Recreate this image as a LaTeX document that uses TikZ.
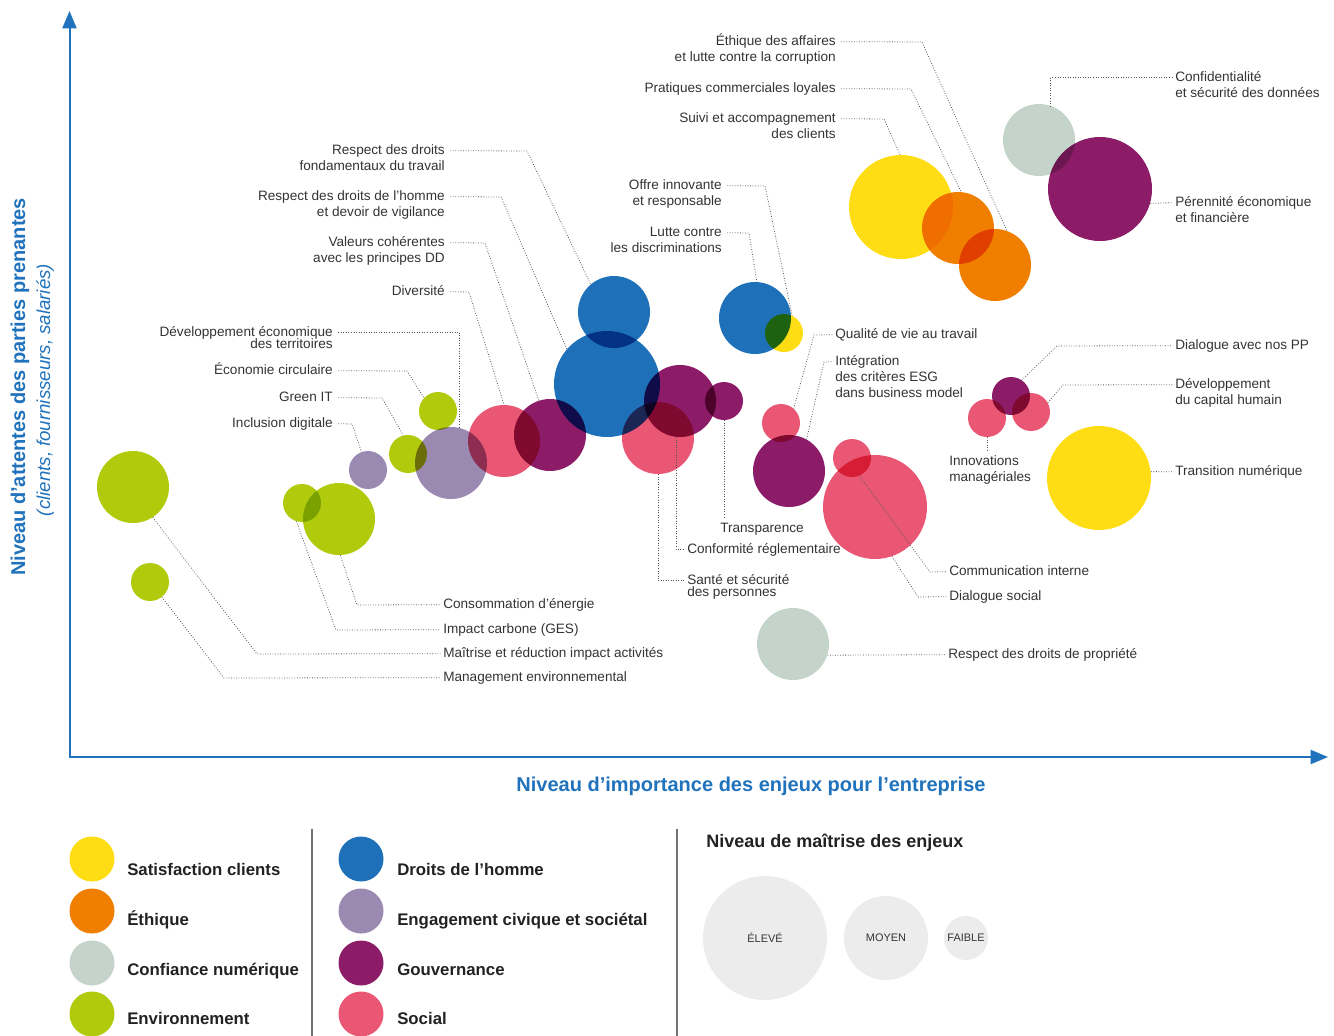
\documentclass[tikz,border=0pt]{standalone}
\usepackage{fontspec}
\setmainfont{Liberation Sans}
\usepackage{xcolor}
\usepackage{tikz}
\usetikzlibrary{arrows.meta, positioning}
\definecolor{satis}{RGB}{255, 221, 21}
\definecolor{ethique}{RGB}{240, 127, 0}
\definecolor{confiance}{RGB}{197, 212, 203}
\definecolor{environ}{RGB}{177, 203, 12}
\definecolor{droits}{RGB}{30, 113, 184}
\definecolor{civique}{RGB}{154, 137, 177}
\definecolor{gouv}{RGB}{140, 28, 103}
\definecolor{social}{RGB}{234, 87, 117}
\definecolor{axisblue}{RGB}{31, 114, 187}
\definecolor{txt}{RGB}{51, 51, 51}
\definecolor{legdark}{RGB}{34, 34, 34}
\definecolor{leadgrey}{RGB}{85, 85, 85}
\definecolor{levelgrey}{RGB}{236, 236, 236}
\newcommand{\lblR}[1]{\begin{tabular}[t]{@{}r@{}}#1\end{tabular}}
\newcommand{\lblL}[1]{\begin{tabular}[t]{@{}l@{}}#1\end{tabular}}
\tikzstyle{bubble} = [circle, inner sep=0pt, draw=none]
\tikzstyle{bbig} = [bubble, minimum size=78pt]
\tikzstyle{bmid} = [bubble, minimum size=54pt]
\tikzstyle{bsmall} = [bubble, minimum size=28.5pt]
\tikzstyle{enjeu} = [inner sep=0pt, font=\fontsize{10.2}{12}\selectfont, text=txt]
\tikzstyle{enjeuR} = [enjeu, anchor=base east]
\tikzstyle{enjeuL} = [enjeu, anchor=base west]
\tikzstyle{lead} = [draw=leadgrey, line width=0.6pt, dash pattern=on 0.6pt off 1.3pt]
\tikzstyle{axisline} = [draw=axisblue, line width=1.5pt, {Triangle[width=10.5pt,length=13pt]}-{Triangle[width=10.5pt,length=13pt]}]
\tikzstyle{legdot} = [circle, inner sep=0pt, draw=none, minimum size=33.75pt]
\tikzstyle{legtext} = [inner sep=0pt, anchor=base west, font=\fontsize{12.6}{15}\selectfont\bfseries, text=legdark]
\tikzstyle{level} = [circle, inner sep=0pt, fill=levelgrey, font=\fontsize{8.2}{10}\selectfont, text=txt]
\tikzstyle{divider} = [draw=black!55, line width=1pt]

\begin{document}
\begin{tikzpicture}[x=0.75pt, y=-0.75pt]
    \useasboundingbox (0,0) rectangle (1334,1035);

    % Axes
    \coordinate (ytip) at (69.5,11);
    \coordinate (origin) at (69.5,757);
    \coordinate (xtip) at (1328,757);
    \draw[axisline] (ytip) -- (origin) -- (xtip);
    \node[rotate=90, anchor=base, inner sep=0pt, font=\fontsize{15}{18}\selectfont\bfseries, text=axisblue] (ytitle) at (25,387) {Niveau d’attentes des parties prenantes};
    \node[rotate=90, anchor=base, inner sep=0pt, font=\fontsize{14}{17}\selectfont\itshape, text=axisblue] (ysub) at (50,390) {(clients, fournisseurs, salariés)};
    \node[anchor=base, inner sep=0pt, font=\fontsize{15}{18}\selectfont\bfseries, text=axisblue] (xtitle) at (751,791) {Niveau d’importance des enjeux pour l’entreprise};

    % Bubbles
    \begin{scope}[blend mode=multiply]
        \node[bmid, fill=droits] (B1) at (614,312) {};
        \node[bbig, fill=droits, minimum size=79.5pt] (B2) at (607,384) {};
        \node[bmid, fill=gouv] (P1) at (550,435) {};
        \node[bmid, fill=social] (S1) at (504,441) {};
        \node[bmid, fill=civique] (L2) at (451,463) {};
        \node[bsmall, fill=civique] (L1) at (368,470) {};
        \node[bsmall, fill=environ] (E1) at (438,411) {};
        \node[bsmall, fill=environ] (E2) at (408,454) {};
        \node[bmid, fill=environ] (E3) at (133,487) {};
        \node[bsmall, fill=environ] (E4) at (150,582) {};
        \node[bsmall, fill=environ] (E5) at (302,503) {};
        \node[bmid, fill=environ] (E6) at (339,519) {};
        \node[bmid, fill=gouv] (P2) at (680,401) {};
        \node[bsmall, fill=gouv] (P3) at (724,401) {};
        \node[bmid, fill=social] (S2) at (658,438) {};
        \node[bmid, fill=droits] (B3) at (755,318) {};
        \node[bsmall, fill=satis] (Y1) at (784,333) {};
        \node[bsmall, fill=social] (S3) at (781,423) {};
        \node[bmid, fill=gouv] (P4) at (789,471) {};
        \node[bsmall, fill=social] (S4) at (852,458) {};
        \node[bbig, fill=social] (S5) at (875,507) {};
        \node[bmid, fill=confiance] (C2) at (793,644) {};
        \node[bbig, fill=satis] (Y2) at (901,207) {};
        \node[bmid, fill=ethique] (O1) at (958,228) {};
        \node[bmid, fill=ethique] (O2) at (995,265) {};
        \node[bmid, fill=confiance] (C1) at (1039,140) {};
        \node[bbig, fill=gouv] (P5) at (1100,189) {};
        \node[bsmall, fill=gouv] (P6) at (1011,396) {};
        \node[bsmall, fill=social] (S6) at (987,418) {};
        \node[bsmall, fill=social] (S7) at (1031,412) {};
        \node[bbig, fill=satis] (Y3) at (1099,478) {};
    \end{scope}

    % Labels, left
    \node[enjeuR] (fondtrav) at (445,154) {\lblR{Respect des droits\\fondamentaux du travail}};
    \node[enjeuR] (droitshomme) at (445,200) {\lblR{Respect des droits de l’homme\\et devoir de vigilance}};
    \node[enjeuR] (valeurs) at (445,246) {\lblR{Valeurs cohérentes\\avec les principes DD}};
    \node[enjeuR] (diversite) at (445,295) {Diversité};
    \node[enjeuR] (devterr) at (333,336) {\lblR{Développement économique\\[-3pt]des territoires}};
    \node[enjeuR] (ecocirc) at (333,374) {Économie circulaire};
    \node[enjeuR] (greenit) at (333,401) {Green IT};
    \node[enjeuR] (inclusion) at (333,427) {Inclusion digitale};

    % Labels, top
    \node[enjeuR] (ethaff) at (836,45) {\lblR{Éthique des affaires\\et lutte contre la corruption}};
    \node[enjeuR] (pratiques) at (836,92) {Pratiques commerciales loyales};
    \node[enjeuR] (suivi) at (836,122) {\lblR{Suivi et accompagnement\\des clients}};
    \node[enjeuR] (offre) at (722,189) {\lblR{Offre innovante\\et responsable}};
    \node[enjeuR] (lutte) at (722,236) {\lblR{Lutte contre\\les discriminations}};

    % Labels, centre
    \node[enjeuL] (transp) at (720,532) {Transparence};
    \node[enjeuL] (conform) at (687,553) {Conformité réglementaire};
    \node[enjeuL] (sante) at (687,584) {\lblL{Santé et sécurité\\[-3pt]des personnes}};
    \node[enjeuL] (qualite) at (835,338) {Qualité de vie au travail};
    \node[enjeuL] (integ) at (835,365) {\lblL{Intégration\\des critères ESG\\dans business model}};
    \node[enjeuL] (commint) at (949,575) {Communication interne};
    \node[enjeuL] (dialsoc) at (949,600) {Dialogue social};
    \node[enjeuL] (propriete) at (948,658) {Respect des droits de propriété};

    % Labels, right
    \node[enjeuL] (confid) at (1175,81) {\lblL{Confidentialité\\et sécurité des données}};
    \node[enjeuL] (perenn) at (1175,206) {\lblL{Pérennité économique\\et financière}};
    \node[enjeuL] (dialpp) at (1175,349) {Dialogue avec nos PP};
    \node[enjeuL] (caphum) at (1175,388) {\lblL{Développement\\du capital humain}};
    \node[enjeuL] (innov) at (949,465) {\lblL{Innovations\\managériales}};
    \node[enjeuL] (transnum) at (1175,475) {Transition numérique};

    % Labels, bottom
    \node[enjeuL] (conso) at (443,608) {Consommation d’énergie};
    \node[enjeuL] (carbone) at (443,633) {Impact carbone (GES)};
    \node[enjeuL] (maitrise) at (443,657) {Maîtrise et réduction impact activités};
    \node[enjeuL] (mgmt) at (443,681) {Management environnemental};

    % Leaders
    \draw[lead] ([xshift=4pt,yshift=2.5pt]fondtrav.base east) -- (527,151) -- (B1.130);
    \draw[lead] ([xshift=4pt,yshift=2.5pt]droitshomme.base east) -- (501,197) -- (B2.139);
    \draw[lead] ([xshift=4pt,yshift=2.5pt]valeurs.base east) -- (485,243) -- (P1.108);
    \draw[lead] ([xshift=4pt,yshift=2.5pt]diversite.base east) -- (469,292) -- (S1.90);
    \draw[lead] ([xshift=4pt,yshift=2.5pt]devterr.base east) -| (L2.76);
    \draw[lead] ([xshift=4pt,yshift=2.5pt]ecocirc.base east) -- (407,371) -- (E1.137);
    \draw[lead] ([xshift=4pt,yshift=2.5pt]greenit.base east) -- (382,398) -- (E2.104);
    \draw[lead] ([xshift=4pt,yshift=2.5pt]inclusion.base east) -- (352,424) -- (L1.110);
    \draw[lead] ([xshift=4pt,yshift=2.5pt]ethaff.base east) -- (922,42) -- (O2.71);
    \draw[lead] ([xshift=4pt,yshift=2.5pt]pratiques.base east) -- (911,89) -- (O1.85);
    \draw[lead] ([xshift=4pt,yshift=2.5pt]suivi.base east) -- (884,119) -- (Y2.91);
    \draw[lead] ([xshift=4pt,yshift=2.5pt]offre.base east) -- (765,186) -- (Y1.65);
    \draw[lead] ([xshift=4pt,yshift=2.5pt]lutte.base east) -- (749,233) -- (B3.87);
    \draw[lead, shorten >=3pt] (P3.south) -- (P3.south |- transp.north);
    \draw[lead] (P2.-96) |- ([xshift=-2pt,yshift=2.5pt]conform.base west);
    \draw[lead] (S2.south) |- ([xshift=-2pt,yshift=2.5pt]sante.base west);
    \draw[lead] (S3.49) -- (814,335) -- ([xshift=-2pt,yshift=2.5pt]qualite.base west);
    \draw[lead] (P4.61) -- (824,362) -- ([xshift=-2pt,yshift=2.5pt]integ.base west);
    \draw[lead] (S4.-67) -- (930,572) -- ([xshift=-2pt,yshift=2.5pt]commint.base west);
    \draw[lead] (S5.-71) -- (918,597) -- ([xshift=-2pt,yshift=2.5pt]dialsoc.base west);
    \draw[lead] (C2.-18) -- ([xshift=-2pt,yshift=2.5pt]propriete.base west);
    \draw[lead] ([xshift=-2pt,yshift=2.5pt]confid.base west) -| (C1.71);
    \draw[lead] (P5.-16) -- ([xshift=-2pt,yshift=2.5pt]perenn.base west);
    \draw[lead] (P6.56) -- (1057,346) -- ([xshift=-2pt,yshift=2.5pt]dialpp.base west);
    \draw[lead] (S7.29) -- (1063,385) -- ([xshift=-2pt,yshift=2.5pt]caphum.base west);
    \draw[lead, shorten >=2pt] (S6.south) -- (S6.south |- innov.north);
    \draw[lead] (Y3.7) -- ([xshift=-2pt,yshift=2.5pt]transnum.base west);
    \draw[lead] (E6.-88) -- (357,605) -- ([xshift=-2pt,yshift=2.5pt]conso.base west);
    \draw[lead] (E5.-107) -- (336,630) -- ([xshift=-2pt,yshift=2.5pt]carbone.base west);
    \draw[lead] (E3.-57) -- (257,654) -- ([xshift=-2pt,yshift=2.5pt]maitrise.base west);
    \draw[lead] (E4.-52) -- (224,678) -- ([xshift=-2pt,yshift=2.5pt]mgmt.base west);

    % Legend, families
    \draw[divider] (312,829) -- (312,1040);
    \draw[divider] (677,829) -- (677,1040);
    \node[legdot, fill=satis] (dsatis) at (92,859) {};
    \node[legtext] (tsatis) at (127,875) {Satisfaction clients};
    \node[legdot, fill=ethique] (dethique) at (92,911) {};
    \node[legtext] (tethique) at (127,925) {Éthique};
    \node[legdot, fill=confiance] (dconf) at (92,963) {};
    \node[legtext] (tconf) at (127,975) {Confiance numérique};
    \node[legdot, fill=environ] (denv) at (92,1014) {};
    \node[legtext] (tenv) at (127,1024) {Environnement};
    \node[legdot, fill=droits] (ddroits) at (361,859) {};
    \node[legtext] (tdroits) at (397,875) {Droits de l’homme};
    \node[legdot, fill=civique] (dciv) at (361,911) {};
    \node[legtext] (tciv) at (397,925) {Engagement civique et sociétal};
    \node[legdot, fill=gouv] (dgouv) at (361,963) {};
    \node[legtext] (tgouv) at (397,975) {Gouvernance};
    \node[legdot, fill=social] (dsocial) at (361,1014) {};
    \node[legtext] (tsocial) at (397,1024) {Social};

    % Legend, levels
    \node[anchor=base west, inner sep=0pt, font=\fontsize{13.5}{16}\selectfont\bfseries, text=legdark] (ltitle) at (706,847) {Niveau de maîtrise des enjeux};
    \node[level, minimum size=93pt] (eleve) at (765,938) {ÉLEVÉ};
    \node[level, minimum size=63pt] (moyen) at (886,938) {MOYEN};
    \node[level, minimum size=33pt] (faible) at (966,938) {FAIBLE};
\end{tikzpicture}
\end{document}
